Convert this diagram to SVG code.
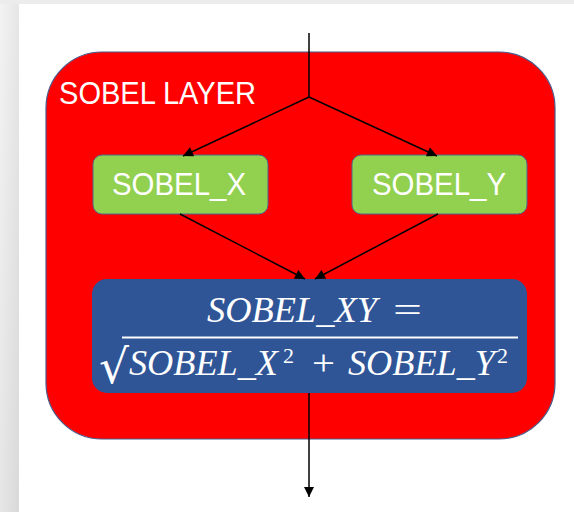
<svg xmlns="http://www.w3.org/2000/svg" width="574" height="512" viewBox="0 0 574 512">
<defs>
<linearGradient id="lg" x1="0" y1="0" x2="1" y2="1">
<stop offset="0" stop-color="#f3f3f3"/><stop offset="1" stop-color="#d9d9d9"/>
</linearGradient>
<marker id="ah" viewBox="0 0 10 10" refX="10" refY="5" markerWidth="11" markerHeight="10" markerUnits="userSpaceOnUse" orient="auto">
<path d="M0,0 L10,5 L0,10 z" fill="#000"/>
</marker>
<style>
.lbl{font-family:"Liberation Sans","Open Sans",sans-serif;fill:#fff}
.math{font-family:"Liberation Serif","DejaVu Serif",serif;font-style:italic;fill:#fff}
.num{font-family:"Liberation Serif","DejaVu Serif",serif;fill:#fff}
.con{stroke:#000;stroke-width:1.5;fill:none;marker-end:url(#ah)}
</style>
</defs>
<rect x="0" y="0" width="574" height="512" fill="#fff"/>
<rect x="0" y="0" width="19" height="512" fill="url(#lg)"/>
<rect x="0" y="0" width="574" height="4" fill="#ececec"/>
<g id="sobel_layer">
<rect x="46" y="52" width="509" height="387" rx="56" fill="#ff0000" stroke="#4a5a8a" stroke-width="1.2"/>
<text class="lbl" x="59" y="104" font-size="31" textLength="197" lengthAdjust="spacingAndGlyphs">SOBEL LAYER</text>
</g>
<g id="sobel_x">
<rect x="93" y="155" width="175" height="59" rx="9" fill="#92d050" stroke="#4a6a8a" stroke-width="1"/>
<text class="lbl" x="112" y="195" font-size="32" textLength="134" lengthAdjust="spacingAndGlyphs">SOBEL_X</text>
</g>
<g id="sobel_y">
<rect x="352" y="155" width="175" height="59" rx="9" fill="#92d050" stroke="#4a6a8a" stroke-width="1"/>
<text class="lbl" x="372" y="195" font-size="32" textLength="134" lengthAdjust="spacingAndGlyphs">SOBEL_Y</text>
</g>
<g id="sobel_xy">
<rect x="92" y="279" width="435" height="114" rx="15" fill="#2f5597"/>
<text class="math" x="207" y="322" font-size="36" textLength="170" lengthAdjust="spacingAndGlyphs">SOBEL_XY</text>
<text class="num" x="393" y="322" font-size="36" textLength="29" lengthAdjust="spacingAndGlyphs">=</text>
<text x="99" y="383" font-family="'DejaVu Serif',serif" font-size="47" fill="#fff">√</text>
<line x1="122" y1="337.5" x2="518" y2="337.5" stroke="#fff" stroke-width="2"/>
<text class="math" x="129" y="375" font-size="35" textLength="149" lengthAdjust="spacingAndGlyphs">SOBEL_X</text>
<text class="num" x="283" y="363" font-size="22">2</text>
<text class="num" x="312" y="375" font-size="35" textLength="23" lengthAdjust="spacingAndGlyphs">+</text>
<text class="math" x="348" y="375" font-size="35" textLength="147" lengthAdjust="spacingAndGlyphs">SOBEL_Y</text>
<text class="num" x="497" y="363" font-size="22">2</text>
</g>
<g id="connectors">
<line x1="309" y1="33" x2="309" y2="97" stroke="#000" stroke-width="1.5"/>
<line class="con" x1="309" y1="97" x2="183" y2="156"/>
<line class="con" x1="309" y1="97" x2="437" y2="156"/>
<line class="con" x1="180" y1="214" x2="305" y2="279"/>
<line class="con" x1="438" y1="214" x2="315" y2="279"/>
<line class="con" x1="309" y1="393" x2="309" y2="497"/>
</g>
</svg>
